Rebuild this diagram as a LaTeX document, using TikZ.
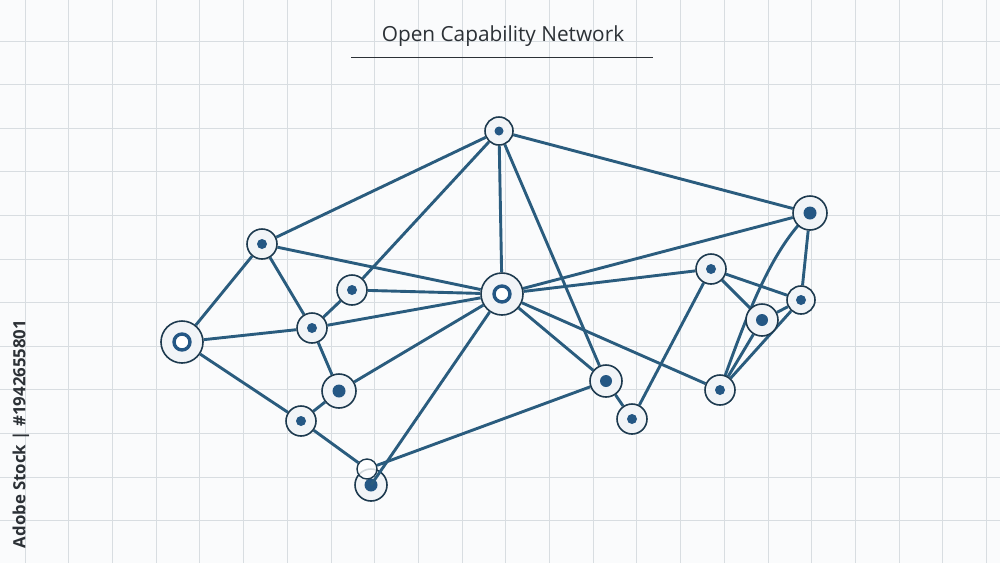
\documentclass[tikz,border=0pt]{standalone}
\usepackage{fontspec}
\setmainfont{Open Sans}
\usetikzlibrary{backgrounds}

\definecolor{linkcol}{HTML}{2A5C7E}
\definecolor{rimcol}{HTML}{1D3A4F}
\definecolor{dotcol}{HTML}{245784}
\definecolor{nodefill}{HTML}{F1F4F7}
\definecolor{gridcol}{HTML}{D8DDE1}
\definecolor{papercol}{HTML}{FAFBFC}
\definecolor{textcol}{HTML}{2C3136}

\begin{document}
\begin{tikzpicture}[x=1pt,y=-1pt,
  link/.style={linkcol, line width=2.9pt},
  peer/.style 2 args={circle, draw=rimcol, fill=nodefill, line width=1.6pt,
    inner sep=0pt, minimum size=#1,
    path picture={\fill[dotcol] (path picture bounding box.center) circle (#2);}},
  hub/.style={circle, draw=rimcol, fill=nodefill, line width=1.6pt,
    inner sep=0pt, minimum size=#1,
    path picture={\draw[dotcol, line width=3.4pt, fill=white]
      (path picture bounding box.center) circle (8pt);}},
  ghost/.style={circle, draw=rimcol, fill=white, fill opacity=0.8,
    line width=1.4pt, inner sep=0pt, minimum size=20pt}]
  \useasboundingbox (0,0) rectangle (1000,563);

  % Title
  \node[textcol, font=\fontsize{20.8}{23}\selectfont] (title) at (503,36) {Open Capability Network};
  \draw[textcol, line width=0.8pt] (351,57) -- (653,57);
  \node[textcol, rotate=90, font=\fontsize{16.8}{19}\selectfont\bfseries] (mark) at (21,434)
    {Adobe Stock | \#1942655801};

  % Nodes
  \node[peer={28pt}{4.5pt}] (a) at (499,131) {};
  \node[peer={34pt}{6.5pt}] (b) at (810,213) {};
  \node[peer={30pt}{5pt}] (c) at (262,244) {};
  \node[hub=42pt] (d) at (502,294) {};
  \node[peer={30pt}{5pt}] (e) at (352,290) {};
  \node[peer={30pt}{5pt}] (f) at (312,328) {};
  \node[hub=42pt] (g) at (182,342) {};
  \node[peer={34pt}{6.5pt}] (h) at (339,391) {};
  \node[peer={30pt}{5pt}] (i) at (301,421) {};
  \node[peer={32pt}{6.5pt}] (j) at (371,485) {};
  \node[ghost] (s) at (367,469) {};
  \node[peer={30pt}{5pt}] (k) at (711,269) {};
  \node[peer={28pt}{5pt}] (l) at (801,300) {};
  \node[peer={32pt}{6pt}] (m) at (762,320) {};
  \node[peer={30pt}{5pt}] (n) at (720,390) {};
  \node[peer={32pt}{6pt}] (o) at (606,381) {};
  \node[peer={30pt}{5pt}] (p) at (632,419) {};

  % Grid and links
  \begin{scope}[on background layer]
    \fill[papercol] (0,0) rectangle (1000,563);
    \foreach \gx in {0,...,22}
      \draw[gridcol, line width=0.8pt] (25+43.7*\gx,0) -- (25+43.7*\gx,563);
    \foreach \gy in {0,...,11}
      \draw[gridcol, line width=0.8pt] (0,41+43.6*\gy) -- (1000,41+43.6*\gy);

    \draw[link] (a) -- (c);
    \draw[link] (a) -- (e);
    \draw[link] (a) -- (d);
    \draw[link] (a) -- (o);
    \draw[link] (a) -- (b);
    \draw[link] (b) -- (d);
    \draw[link] (b) -- (l);
    \draw[link] (b.center) .. controls (770,250) and (745,320) .. (n.center);
    \draw[link] (d) -- (k);
    \draw[link] (d) -- (n);
    \draw[link] (d) -- (o);
    \draw[link] (c) -- (d);
    \draw[link] (c) -- (f);
    \draw[link] (c) -- (g);
    \draw[link] (e) -- (d);
    \draw[link] (e) -- (f);
    \draw[link] (f) -- (d);
    \draw[link] (f) -- (g);
    \draw[link] (f) -- (h);
    \draw[link] (h) -- (d);
    \draw[link] (h) -- (i);
    \draw[link] (g) -- (i);
    \draw[link] (i) -- (s);
    \draw[link] (o) -- (s);
    \draw[link] (k) -- (l);
    \draw[link] (k) -- (m);
    \draw[link] (k) -- (p);
    \draw[link] (m) -- (l);
    \draw[link] (n) -- (m);
    \draw[link] (n) -- (l);
    \draw[link] (o) -- (p);
  \end{scope}

  % Link running into the bottom node
  \draw[link] (d) -- (j.center);
\end{tikzpicture}
\end{document}
